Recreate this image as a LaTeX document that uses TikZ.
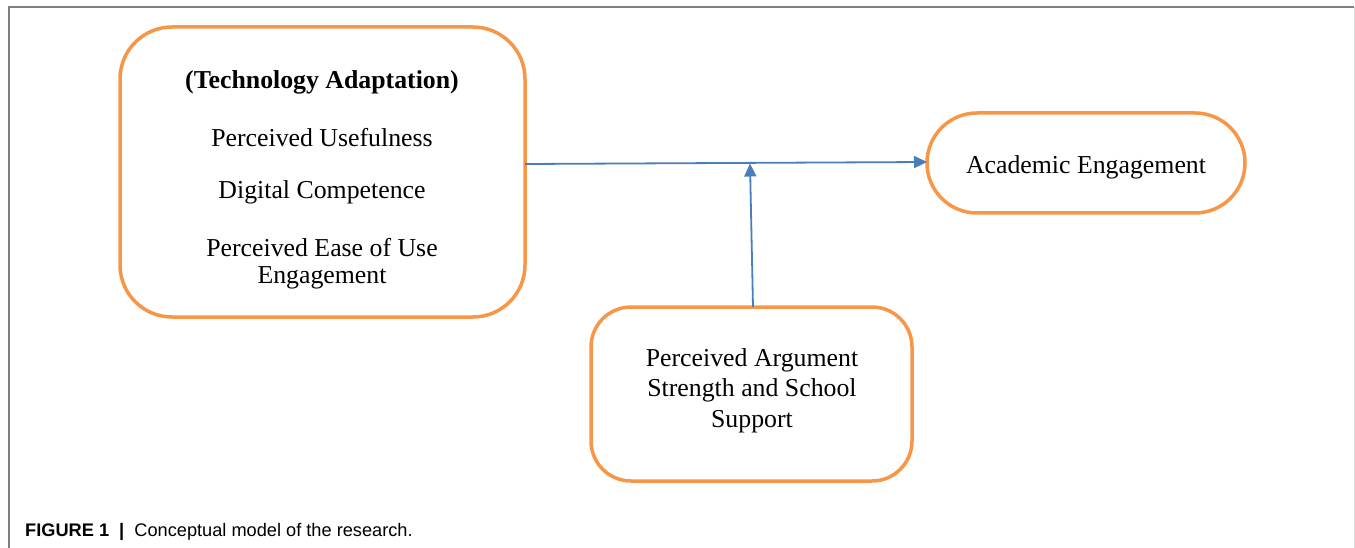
\documentclass[tikz,border=0pt]{standalone}
\usepackage{fontspec}
\setmainfont{Liberation Serif}
\newfontfamily\capfont{Liberation Sans}
\usetikzlibrary{arrows.meta}
\definecolor{boxorange}{HTML}{F79646}
\definecolor{arrowblue}{HTML}{4A7EBB}
\definecolor{framegray}{HTML}{7F7F7F}
\tikzset{
  obox/.style={draw=boxorange, line width=3.5pt, fill=white},
  btxt/.style={font=\fontsize{25.8}{30}\selectfont, inner sep=0pt, anchor=center},
  conn/.style={draw=arrowblue, line width=1.8pt, -{Triangle[length=13pt,width=12pt]}},
}
\begin{document}
\begin{tikzpicture}[x=1pt,y=-1pt]
\useasboundingbox (0,0) rectangle (1355,548);
% frame
\draw[framegray, line width=1.2pt] (9,548) -- (9,7) -- (1354,7);
\draw[black!15, line width=1pt] (1354,7) -- (1354,548);
% boxes
\draw[obox, rounded corners=52pt] (120,27) rectangle (525,317);
\draw[obox, rounded corners=50pt] (927,113) rectangle (1245,213);
\draw[obox, rounded corners=40pt] (591,307) rectangle (912,481);
\coordinate (tl) at (525,164);
\coordinate (ae) at (927,162);
\coordinate (mid) at (750,163.5);
\coordinate (pb) at (753,307);
% text
\node[btxt, font=\bfseries\fontsize{25.8}{30}\selectfont] (t1) at (322,82) {(Technology Adaptation)};
\node[btxt] (t2) at (322,137.5) {Perceived Usefulness};
\node[btxt] (t3) at (322,192.5) {Digital Competence};
\node[btxt] (t4) at (322,247.5) {Perceived Ease of Use};
\node[btxt] (t5) at (322,277.5) {Engagement};
\node[btxt] (a1) at (1086,167.5) {Academic Engagement};
\node[btxt] (p1) at (752,360.5) {Perceived Argument};
\node[btxt] (p2) at (752,390.5) {Strength and School};
\node[btxt] (p3) at (752,421.5) {Support};
% connectors
\draw[conn] (tl) -- (ae);
\draw[conn] (pb) -- (mid);
% caption
\node[anchor=west, inner sep=0pt, font=\capfont\fontsize{18.2}{22}\selectfont] (cap) at (25,532) {\textbf{FIGURE 1}\ \ \textbf{|}\ \ Conceptual model of the research.};
\end{tikzpicture}
\end{document}
